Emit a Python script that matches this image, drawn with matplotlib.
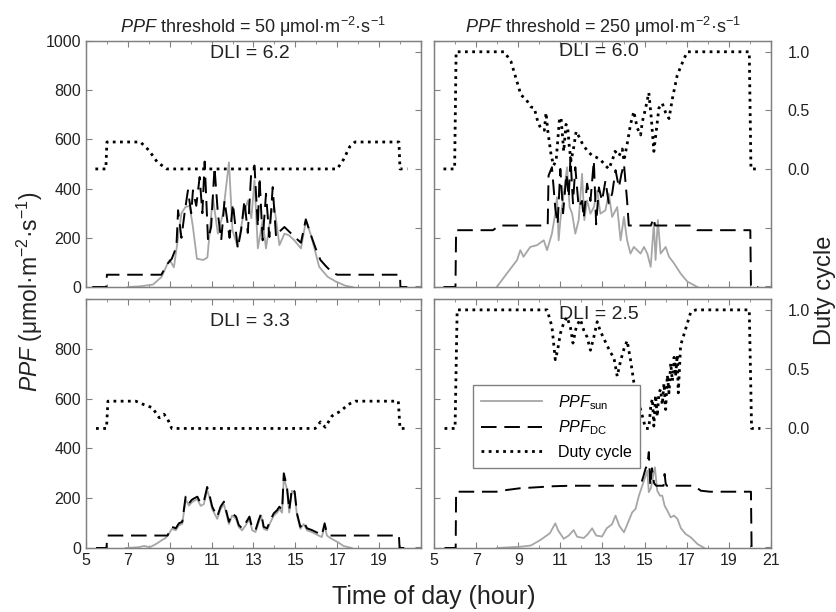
import matplotlib
matplotlib.use('Agg')
import matplotlib.pyplot as plt
from matplotlib.lines import Line2D

plt.rcParams['font.family'] = ['Liberation Sans', 'DejaVu Sans']
plt.rcParams['mathtext.fontset'] = 'custom'
plt.rcParams['mathtext.rm'] = 'Liberation Sans'
plt.rcParams['mathtext.it'] = 'Liberation Sans:italic'

# ---- data (hour of day, PPF in umol m-2 s-1, duty cycle 0-1) ----
# top left: threshold 50, sunny day
a_sun_t = [7.0, 7.6, 8.2, 8.6, 8.9, 9.0, 9.2, 9.4, 9.56, 9.75, 9.95, 10.1, 10.3, 10.6, 10.8, 11.06,
           11.3, 11.55, 11.83, 12.0, 12.25, 12.5, 12.73, 12.9, 13.05, 13.21, 13.44, 13.6, 13.84, 14.0,
           14.24, 14.48, 14.7, 14.95, 15.27, 15.51, 15.75, 16.14, 16.54, 16.94, 17.4, 17.73]
a_sun = [0, 3, 10, 40, 95, 110, 80, 200, 300, 325, 330, 250, 115, 110, 120, 365,
         217, 300, 507, 230, 163, 285, 352, 280, 433, 157, 271, 157, 298, 325,
         170, 217, 210, 190, 157, 271, 210, 82, 42, 22, 5, 0]
a_dc_t = [5.3, 5.97, 6.0, 8.6, 8.9, 9.1, 9.32, 9.4, 9.56, 9.71, 9.87, 10.03, 10.11, 10.27, 10.43,
          10.56, 10.67, 10.83, 10.98, 11.14, 11.3, 11.46, 11.62, 11.86, 12.02, 12.25, 12.41, 12.57,
          12.73, 12.89, 13.05, 13.21, 13.29, 13.44, 13.6, 13.76, 13.92, 14.08, 14.24, 14.48, 14.71,
          14.95, 15.27, 15.5, 15.75, 15.98, 16.2, 16.46, 16.75, 17.0, 20.0, 20.02, 20.35]
a_dc = [0, 0, 50, 50, 95, 115, 163, 312, 200, 300, 393, 300, 393, 330, 447,
        300, 510, 190, 245, 487, 300, 190, 352, 200, 339, 157, 230, 352,
        220, 460, 494, 245, 446, 190, 379, 203, 406, 204, 225, 244, 225,
        205, 180, 275, 210, 155, 110, 85, 60, 50, 50, 0, 0]
a_duty_t = [5.45, 5.95, 6.0, 7.6, 8.0, 8.4, 8.85, 17.0, 17.3, 17.6, 17.85, 19.95, 20.0, 20.35]
a_duty = [0, 0, 0.23, 0.23, 0.16, 0.06, 0, 0, 0.08, 0.19, 0.23, 0.23, 0, 0]

# top right: threshold 250, sunny day
b_sun_t = [7.98, 8.46, 8.94, 9.1, 9.25, 9.57, 9.89, 10.21, 10.37, 10.6, 10.76, 10.84, 10.92, 11.0,
           11.16, 11.32, 11.44, 11.56, 11.71, 11.87, 12.03, 12.14, 12.27, 12.43, 12.59, 12.75, 12.9,
           13.14, 13.3, 13.46, 13.7, 13.86, 14.02, 14.17, 14.33, 14.49, 14.81, 14.97, 15.13, 15.29,
           15.44, 15.52, 15.63, 15.76, 16.0, 16.16, 16.4, 16.71, 17.03, 17.51]
b_sun = [0, 55, 109, 150, 123, 163, 170, 190, 150, 217, 300, 365, 190, 272,
         380, 487, 325, 298, 217, 272, 460, 272, 352, 298, 325, 392, 298,
         312, 380, 285, 325, 190, 285, 190, 136, 163, 136, 163, 136, 82,
         258, 110, 272, 136, 163, 123, 96, 55, 22, 0]
b_dc_t = [5.45, 6.02, 6.05, 7.8, 8.1, 10.4, 10.44, 10.6, 10.76, 10.87, 11.0, 11.13, 11.29, 11.4,
          11.48, 11.6, 11.71, 11.87, 12.03, 12.11, 12.27, 12.43, 12.59, 12.7, 12.83, 12.98, 13.14,
          13.3, 13.46, 13.62, 13.78, 13.9, 14.02, 14.17, 14.25, 15.3, 15.42, 15.5, 17.2, 17.5,
          20.02, 20.05, 20.4]
b_dc = [0, 0, 231, 231, 250, 250, 453, 487, 320, 255, 480, 300, 460, 365,
        528, 340, 487, 325, 350, 280, 420, 350, 514, 255, 405, 350, 432,
        340, 380, 475, 405, 460, 500, 350, 250, 250, 280, 250, 250, 231,
        231, 0, 0]
b_duty_t = [5.45, 5.98, 6.05, 8.33, 8.65, 8.9, 9.13, 9.35, 9.6, 9.76, 9.92, 10.08, 10.24, 10.32,
            10.4, 10.56, 10.68, 10.8, 10.95, 11.03, 11.16, 11.27, 11.35, 11.43, 11.51, 11.63, 11.75,
            11.9, 12.06, 12.3, 12.54, 12.7, 12.9, 13.14, 13.3, 13.46, 13.6, 13.78, 13.94, 14.02,
            14.2, 14.33, 14.49, 14.65, 14.81, 14.89, 15.05, 15.2, 15.32, 15.44, 15.57, 15.68,
            15.84, 16.0, 16.16, 16.32, 16.55, 16.87, 17.03, 19.97, 20.05, 20.4]
b_duty = [0, 0, 1.0, 1.0, 0.92, 0.77, 0.63, 0.60, 0.53, 0.52, 0.41, 0.34, 0.33, 0.48,
          0.33, 0.12, 0.03, 0.07, 0.41, 0.44, 0.15, 0.38, 0.35, 0.18, 0.07, 0.18, 0.32,
          0.27, 0.21, 0.15, 0.11, 0.10, 0.08, 0.03, 0.0, 0.07, 0.15, 0.11, 0.17, 0.07,
          0.24, 0.38, 0.49, 0.35, 0.29, 0.40, 0.52, 0.65, 0.43, 0.15, 0.35, 0.52,
          0.56, 0.48, 0.43, 0.60, 0.80, 0.94, 1.0, 1.0, 0, 0]

# bottom left: threshold 50, cloudy day
c_sun_t = [6.9, 7.5, 7.78, 8.05, 8.33, 8.6, 8.8, 8.97, 9.1, 9.29, 9.44, 9.6, 9.76, 9.92, 10.05,
           10.16, 10.32, 10.48, 10.63, 10.79, 10.9, 11.03, 11.27, 11.43, 11.59, 11.67, 11.83, 11.98,
           12.17, 12.3, 12.46, 12.62, 12.81, 12.94, 13.1, 13.25, 13.37, 13.49, 13.65, 13.81, 13.97,
           14.13, 14.24, 14.37, 14.45, 14.6, 14.71, 14.84, 14.97, 15.08, 15.24, 15.4, 15.56, 15.79,
           16.11, 16.27, 16.4, 16.51, 16.67, 17.06, 17.3, 17.7]
c_sun = [0, 3, 8, 3, 15, 30, 40, 58, 77, 71, 91, 97, 195, 170, 183,
         189, 196, 169, 176, 233, 203, 156, 117, 156, 176, 149, 96, 130,
         117, 84, 71, 90, 117, 71, 64, 103, 130, 77, 71, 103, 130,
         142, 156, 142, 285, 236, 142, 230, 216, 130, 77, 96, 71, 64,
         50, 44, 90, 50, 40, 22, 8, 0]
c_dc_t = [5.48, 5.98, 6.02, 8.9, 8.97, 9.1, 9.29, 9.44, 9.6, 9.76, 9.92, 10.05, 10.16, 10.32,
          10.48, 10.63, 10.79, 10.9, 11.03, 11.27, 11.43, 11.59, 11.67, 11.83, 11.98, 12.17, 12.3,
          12.46, 12.62, 12.81, 12.94, 13.1, 13.25, 13.37, 13.49, 13.65, 13.81, 13.97, 14.13, 14.24,
          14.37, 14.45, 14.6, 14.71, 14.84, 14.97, 15.08, 15.24, 15.4, 15.56, 15.79, 16.11, 16.27,
          16.4, 16.51, 16.67, 19.95, 19.98, 20.35]
c_dc = [0, 0, 50, 50, 66, 85, 79, 99, 105, 206, 179, 193, 199, 206,
        179, 186, 245, 213, 166, 126, 166, 186, 159, 105, 139, 126, 92,
        79, 99, 126, 79, 72, 112, 139, 85, 79, 112, 139, 152, 166,
        152, 300, 246, 152, 240, 226, 139, 85, 105, 79, 72, 59, 52,
        99, 59, 50, 50, 0, 0]
c_duty_t = [5.48, 5.98, 6.05, 7.38, 7.78, 8.17, 8.5, 8.73, 8.9, 9.1, 15.95, 16.2, 16.43, 16.75,
            17.0, 17.2, 17.5, 17.86, 19.92, 20.0, 20.4]
c_duty = [0, 0, 0.23, 0.23, 0.20, 0.175, 0.09, 0.12, 0.08, 0, 0, 0.055, 0.01, 0.105,
          0.13, 0.15, 0.20, 0.23, 0.23, 0, 0]

# bottom right: threshold 250, cloudy day
d_sun_t = [8.0, 9.1, 9.6, 10.05, 10.5, 10.76, 10.9, 11.16, 11.4, 11.63, 11.8, 12.11, 12.3, 12.51,
           12.7, 12.98, 13.2, 13.45, 13.62, 13.8, 14.02, 14.15, 14.41, 14.57, 14.73, 14.89, 15.05,
           15.13, 15.2, 15.3, 15.49, 15.6, 15.73, 15.84, 15.95, 16.08, 16.24, 16.4, 16.56, 16.72,
           16.95, 17.19, 17.51, 17.83]
d_sun = [0, 5, 10, 32, 59, 99, 70, 37, 50, 72, 45, 40, 55, 79,
         50, 46, 79, 95, 130, 89, 63, 89, 143, 157, 210, 250, 290,
         310, 224, 240, 324, 230, 210, 210, 170, 150, 123, 130, 117, 80,
         56, 43, 16, 0]
d_dc_t = [5.5, 6.03, 6.05, 7.98, 8.46, 9.1, 9.73, 10.68, 11.5, 14.81, 14.95, 15.05, 15.13, 15.2,
          15.27, 15.35, 15.45, 15.55, 15.9, 15.95, 16.0, 16.05, 17.35, 17.67, 18.1, 20.05, 20.08,
          20.4]
d_dc = [0, 0, 226, 226, 233, 240, 243, 248, 250, 250, 290, 320, 333, 385,
        250, 320, 260, 250, 250, 297, 260, 250, 250, 230, 226, 226, 0,
        0]
d_duty_t = [5.5, 6.0, 6.1, 10.37, 10.6, 10.76, 10.87, 11.0, 11.16, 11.32, 11.48, 11.6, 11.76,
            11.95, 12.11, 12.27, 12.43, 12.59, 12.75, 12.9, 13.14, 13.38, 13.54, 13.7, 13.86,
            14.02, 14.17, 14.33, 14.49, 14.65, 14.81, 15.05, 15.2, 15.3, 15.37, 15.44, 15.52,
            15.6, 15.68, 15.76, 15.84, 15.92, 16.0, 16.08, 16.16, 16.24, 16.32, 16.4, 16.47,
            16.55, 16.6, 16.71, 16.95, 17.19, 17.43, 19.97, 20.08, 20.5]
d_duty = [0, 0, 1.0, 1.0, 0.86, 0.58, 0.66, 0.80, 0.89, 0.94, 0.85, 0.72, 0.86,
          0.92, 0.83, 0.77, 0.66, 0.77, 0.90, 0.82, 0.73, 0.64, 0.60, 0.44, 0.57,
          0.67, 0.74, 0.58, 0.39, 0.30, 0.16, 0.0, 0.0, 0.2, 0.25, 0.02, 0.28,
          0.1, 0.3, 0.33, 0.2, 0.38, 0.16, 0.45, 0.3, 0.55, 0.4, 0.6, 0.44,
          0.62, 0.3, 0.7, 0.84, 0.98, 1.0, 1.0, 0, 0]

dli = ['6.2', '6.0', '3.3', '2.5']
thresholds = [50, 250]
xticks = [5, 7, 9, 11, 13, 15, 17, 19, 21]

frame = '#808080'
sun_color = '#a6a6a6'


def draw_panel(ax, sun_t, sun, dc_t, dc, duty_t, duty, dli_txt, dli_y, left, bottom):
    ax.plot(sun_t, sun, color=sun_color, lw=1.3, zorder=2)
    ax.plot(dc_t, dc, color='black', lw=1.4, linestyle=(0, (8, 4)), zorder=3)
    ax.set_xlim(5, 21)
    ax.set_ylim(0, 1000)
    ax.set_xticks(xticks)
    ax.set_xticks(range(5, 22), minor=True)
    ax.set_yticks(range(0, 1001, 200))
    if bottom:
        labs = [str(v) for v in xticks]
        if left:
            labs[-1] = ''
        ax.set_xticklabels(labs)
    else:
        ax.set_xticklabels([])
    if left:
        labs = [str(v) for v in range(0, 1001, 200)]
        if bottom:
            labs[-1] = ''
        ax.set_yticklabels(labs)
    else:
        ax.set_yticklabels([])
    ax.tick_params(which='both', direction='in', top=True, colors=frame,
                   labelcolor='#222222', labelsize=11.5, length=4)
    ax.tick_params(which='minor', length=2.5)
    for s in ax.spines.values():
        s.set_color(frame)
        s.set_linewidth(1.0)
    ax.text(0.49, dli_y, 'DLI = ' + dli_txt, transform=ax.transAxes,
            ha='center', va='center', fontsize=14, color='#222222', zorder=5)

    ax2 = ax.twinx()
    ax2.plot(duty_t, duty, color='black', lw=2.0, linestyle=(0, (1, 1.6)), zorder=3)
    ax2.set_ylim(-1.008, 1.092)
    ax2.set_yticks([-1.0, -0.5, 0.0, 0.5, 1.0])
    if left:
        ax2.set_yticklabels([])
    else:
        ax2.set_yticklabels(['', '', '0.0', '0.5', '1.0'])
    ax2.tick_params(direction='in', colors=frame, labelcolor='#222222',
                    labelsize=11.5, length=4, pad=12)
    for s in ax2.spines.values():
        s.set_color(frame)
    return ax2


fig = plt.figure(figsize=(8.37, 6.12), dpi=100)
pos = [
    [0.1027, 0.5310, 0.4002, 0.4020],
    [0.5185, 0.5310, 0.4026, 0.4020],
    [0.1027, 0.1046, 0.4002, 0.4069],
    [0.5185, 0.1046, 0.4026, 0.4069],
]
series = [
    (a_sun_t, a_sun, a_dc_t, a_dc, a_duty_t, a_duty),
    (b_sun_t, b_sun, b_dc_t, b_dc, b_duty_t, b_duty),
    (c_sun_t, c_sun, c_dc_t, c_dc, c_duty_t, c_duty),
    (d_sun_t, d_sun, d_dc_t, d_dc, d_duty_t, d_duty),
]
dli_y = [0.95, 0.957, 0.908, 0.938]

axes = []
twins = []
for i in range(4):
    ax = fig.add_axes(pos[i])
    left = i % 2 == 0
    bottom = i >= 2
    ax2 = draw_panel(ax, *series[i], dli[i], dli_y[i], left, bottom)
    axes.append(ax)
    twins.append(ax2)

for i, th in enumerate(thresholds):
    axes[i].set_title(r'$\it{PPF}$ threshold = %d μmol·m$^{-2}$·s$^{-1}$' % th,
                      fontsize=13, pad=6, color='#222222')

handles = [
    Line2D([], [], color=sun_color, lw=1.3),
    Line2D([], [], color='black', lw=1.4, linestyle=(0, (8, 4))),
    Line2D([], [], color='black', lw=2.0, linestyle=(0, (1, 1.6))),
]
labels = [r'$\it{PPF}_{\rm sun}$', r'$\it{PPF}_{\rm DC}$', 'Duty cycle']
leg = twins[3].legend(handles, labels, loc='upper left', bbox_to_anchor=(0.116, 0.655),
                      borderaxespad=0, fontsize=11.5, handlelength=3.8, handletextpad=1.0,
                      labelspacing=0.45, fancybox=False, framealpha=1, borderpad=0.5)
leg.get_frame().set_edgecolor(frame)
leg.get_frame().set_linewidth(1.0)

fig.text(0.036, 0.523, r'$\it{PPF}$ (μmol·m$^{-2}$·s$^{-1}$)', rotation=90,
         ha='center', va='center', fontsize=16.5, color='#222222')
fig.text(0.986, 0.526, 'Duty cycle', rotation=90, ha='center', va='center',
         fontsize=17, color='#222222')
fig.text(0.518, 0.025, 'Time of day (hour)', ha='center', va='center',
         fontsize=18, color='#222222')

fig.savefig('out.png', dpi=100)
